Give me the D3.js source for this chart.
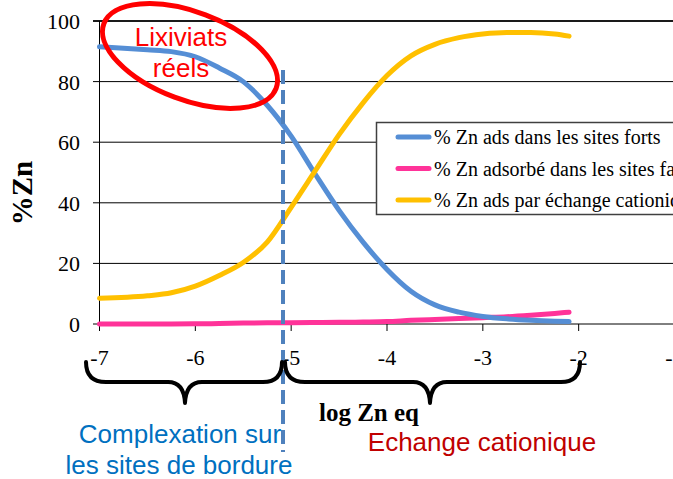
<!DOCTYPE html>
<html>
<head>
<meta charset="utf-8">
<script src="https://cdn.jsdelivr.net/npm/d3@7"></script>
<style>
  html, body { margin: 0; padding: 0; background: #fff; }
  svg { display: block; }
</style>
</head>
<body>
<svg id="chart" width="673" height="479"></svg>
<script>
// Zn speciation versus log of equilibrium Zn concentration
const logZn = [-7, -6.5, -6.25, -6, -5.75, -5.5, -5.25, -5, -4.75, -4.5, -4.25, -4, -3.75, -3.5, -3.25, -3, -2.75, -2.5, -2.25, -2.1];
const sitesForts   = [91.5, 90.5, 89.9, 88.2, 84.5, 80.0, 72.2, 62.0, 49.5, 37.5, 27.0, 18.0, 10.8, 6.3, 3.9, 2.5, 1.7, 1.2, 0.9, 0.8];
const sitesFaibles = [0, 0, 0, 0.05, 0.15, 0.3, 0.4, 0.45, 0.5, 0.55, 0.65, 0.8, 1.2, 1.5, 1.8, 2.1, 2.4, 2.9, 3.5, 3.9];
const echange      = [8.5, 9.3, 10.3, 12.5, 16.0, 20.3, 27.0, 38.5, 50.5, 62.5, 73.0, 82.0, 88.5, 92.3, 94.5, 95.7, 96.2, 96.2, 95.7, 95.0];

const seriesNames  = ["% Zn ads dans les sites forts", "% Zn adsorbé dans les sites faibles", "% Zn ads par échange cationique"];
const seriesColors = ["#558ED5", "#FF3399", "#FFC000"];
const xTicks = [-7, -6, -5, -4, -3, -2, -1];
const yTicks = [0, 20, 40, 60, 80, 100];

const svg = d3.select("#chart");
const x = d3.scaleLinear().domain([-7, -1]).range([99.5, 674.5]);
const y = d3.scaleLinear().domain([0, 100]).range([324, 21]);

const serif = "'Liberation Serif', 'Times New Roman', serif";
const sans = "'Liberation Sans', Arial, sans-serif";

// horizontal gridlines with outward ticks on the left
svg.append("g").selectAll("line").data(yTicks).join("line")
  .attr("x1", 93).attr("x2", 673)
  .attr("y1", d => y(d)).attr("y2", d => y(d))
  .attr("stroke", d => d === 100 ? "#1a1a1a" : "#000")
  .attr("stroke-width", d => d === 100 ? 2 : 1);

// value axis
svg.append("line").attr("x1", 99.5).attr("x2", 99.5).attr("y1", y(100)).attr("y2", y(0))
  .attr("stroke", "#000").attr("stroke-width", 1);

svg.append("g").selectAll("text").data(yTicks).join("text")
  .attr("x", 80).attr("y", d => y(d) + 8)
  .attr("text-anchor", "end")
  .attr("font-family", serif)
  .attr("font-size", 22)
  .text(d => d);

// category axis ticks and labels
svg.append("g").selectAll("line").data(xTicks).join("line")
  .attr("x1", d => x(d)).attr("x2", d => x(d))
  .attr("y1", y(0)).attr("y2", y(0) + 7)
  .attr("stroke", "#000");

svg.append("g").selectAll("text").data(xTicks).join("text")
  .attr("x", d => x(d)).attr("y", 365)
  .attr("text-anchor", "middle")
  .attr("font-family", serif)
  .attr("font-size", 22)
  .text(d => d);

// series
const allSeries = [sitesForts, sitesFaibles, echange];
const line = d3.line().x(d => x(d[0])).y(d => y(d[1])).curve(d3.curveMonotoneX);
// pink first so blue and yellow sit above it where they meet
[1, 0, 2].forEach(i => {
  svg.append("path")
    .datum(logZn.map((v, k) => [v, allSeries[i][k]]))
    .attr("d", line)
    .attr("fill", "none")
    .attr("stroke", seriesColors[i])
    .attr("stroke-width", 5)
    .attr("stroke-linecap", "round")
    .attr("stroke-linejoin", "round");
});

// legend
const lg = svg.append("g");
lg.append("rect").attr("x", 376.5).attr("y", 122.5).attr("width", 320).attr("height", 92)
  .attr("fill", "#fff").attr("stroke", "#404040").attr("stroke-width", 1.5);
seriesNames.forEach((name, i) => {
  const cy = 137 + i * 31.5;
  lg.append("line").attr("x1", 398).attr("x2", 429).attr("y1", cy).attr("y2", cy)
    .attr("stroke", seriesColors[i]).attr("stroke-width", 5).attr("stroke-linecap", "round");
  lg.append("text").attr("x", 434).attr("y", cy + 7)
    .attr("font-family", serif)
    .attr("font-size", 20)
    .text(name);
});

// axis titles
svg.append("text")
  .attr("transform", "translate(32,193) rotate(-90)")
  .attr("text-anchor", "middle")
  .attr("font-family", serif)
  .attr("font-weight", "bold").attr("font-size", 29)
  .text("%Zn");

svg.append("text")
  .attr("x", 369).attr("y", 421)
  .attr("text-anchor", "middle")
  .attr("font-family", serif)
  .attr("font-weight", "bold").attr("font-size", 25)
  .text("log Zn eq");

// boundary between the two regimes
svg.append("line").attr("x1", 283).attr("x2", 283).attr("y1", 70).attr("y2", 452)
  .attr("stroke", "#4F81BD").attr("stroke-width", 4).attr("stroke-dasharray", "14,6");

// braces under the axis
const braces = [
  "M86,362 Q86,382 106,382 L168,382 Q184,382 185,403 Q186,382 202,382 L263,382 Q282,382 282,362",
  "M285,362 Q285,382 305,382 L413,382 Q429,382 430,403 Q431,382 447,382 L561,382 Q580,382 580,362"
];
svg.append("g").selectAll("path").data(braces).join("path")
  .attr("d", d => d)
  .attr("fill", "none").attr("stroke", "#000").attr("stroke-width", 4)
  .attr("stroke-linecap", "round").attr("stroke-linejoin", "round");

// highlighted region for real leachates
svg.append("ellipse")
  .attr("cx", 190).attr("cy", 56).attr("rx", 92).attr("ry", 44)
  .attr("transform", "rotate(20.6,190,56)")
  .attr("fill", "none").attr("stroke", "#FF0000").attr("stroke-width", 5);

svg.append("text").attr("x", 181).attr("y", 46).attr("text-anchor", "middle")
  .attr("font-family", sans).attr("font-size", 26).attr("fill", "#FF0000").text("Lixiviats");
svg.append("text").attr("x", 181).attr("y", 77).attr("text-anchor", "middle")
  .attr("font-family", sans).attr("font-size", 26).attr("fill", "#FF0000").text("réels");

svg.append("text").attr("x", 180).attr("y", 443).attr("text-anchor", "middle")
  .attr("font-family", sans).attr("font-size", 26).attr("fill", "#0070C0").text("Complexation sur");
svg.append("text").attr("x", 179).attr("y", 474).attr("text-anchor", "middle")
  .attr("font-family", sans).attr("font-size", 26).attr("fill", "#0070C0").text("les sites de bordure");
svg.append("text").attr("x", 482).attr("y", 451).attr("text-anchor", "middle")
  .attr("font-family", sans).attr("font-size", 26).attr("fill", "#C00000").text("Echange cationique");
</script>
</body>
</html>
